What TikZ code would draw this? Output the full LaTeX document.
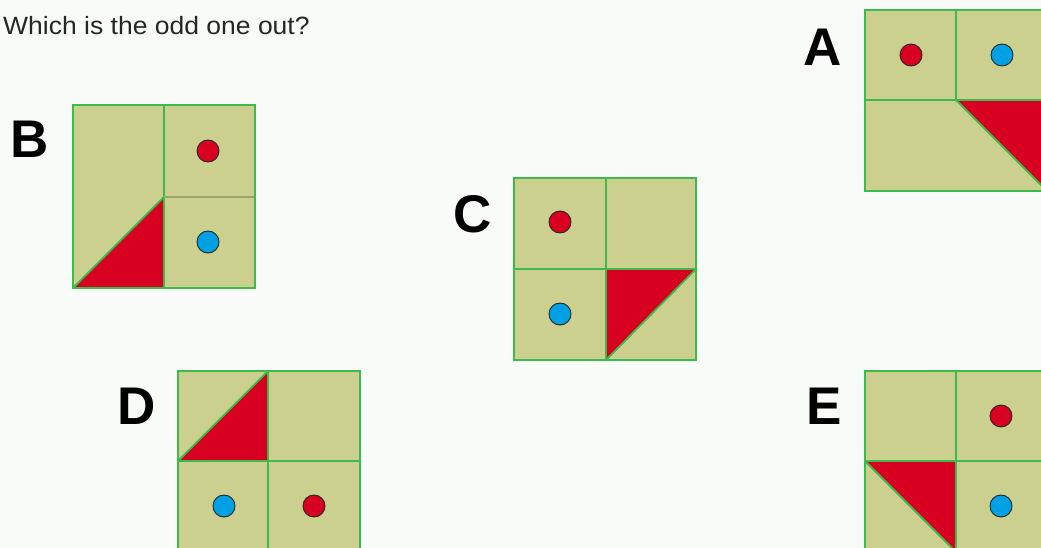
\documentclass[tikz,border=0pt]{standalone}
\usepackage{fontspec}
\setmainfont{Liberation Sans}
\definecolor{paper}{RGB}{249,251,249}
\definecolor{tilefill}{RGB}{203,208,143}
\definecolor{tileline}{RGB}{62,186,76}
\definecolor{wedgered}{RGB}{215,0,33}
\definecolor{dotblue}{RGB}{0,160,228}
\definecolor{seamolive}{RGB}{150,162,104}

\begin{document}
\begin{tikzpicture}[
        x=1pt, y=-1pt,
        tile/.style={fill=tilefill, draw=tileline, line width=1.8pt},
        seam/.style={draw=tileline, line width=1.8pt},
        wedge/.style={fill=wedgered, draw=tileline, line width=1.8pt, line join=round},
        dot/.style={draw=black!85, line width=0.9pt},
        reddot/.style={dot, fill=wedgered},
        bluedot/.style={dot, fill=dotblue},
        letter/.style={font=\fontsize{53}{53}\selectfont\bfseries, inner sep=0pt},
        question/.style={font=\fontsize{25}{25}\selectfont, text=black!85, inner sep=0pt, anchor=base west, xscale=1.06}
    ]
        \fill[paper] (0,0) rectangle (1041,548);
        \useasboundingbox (0,0) rectangle (1041,548);

        \node[question] (ask) at (3,35) {Which is the odd one out?};

        % A
        \node[letter] (labA) at (823,47) {A};
        \draw[tile] (865,10) rectangle (1047,191);
        \draw[wedge] (956,100) -- (1047,100) -- (1047,191) -- cycle;
        \draw[seam] (865,100) -- (1047,100);
        \draw[seam] (956,10) -- (956,100);
        \filldraw[reddot] (911,55) circle[radius=11pt];
        \filldraw[bluedot] (1002,55) circle[radius=11pt];

        % B
        \node[letter] (labB) at (30,139) {B};
        \draw[tile] (73,105) rectangle (255,288);
        \draw[wedge] (73,288) -- (164,197) -- (164,288) -- cycle;
        \draw[seam] (164,105) -- (164,288);
        \draw[seam, draw=seamolive] (164,197) -- (255,197);
        \filldraw[reddot] (208,151) circle[radius=11pt];
        \filldraw[bluedot] (208,242) circle[radius=11pt];

        % C
        \node[letter] (labC) at (473,214) {C};
        \draw[tile] (514,178) rectangle (696,360);
        \draw[wedge] (606,269) -- (696,269) -- (606,360) -- cycle;
        \draw[seam] (514,269) -- (696,269);
        \draw[seam] (606,178) -- (606,360);
        \filldraw[reddot] (560,222) circle[radius=11pt];
        \filldraw[bluedot] (560,314) circle[radius=11pt];

        % D
        \node[letter] (labD) at (137,406) {D};
        \draw[tile] (178,371) rectangle (360,552);
        \draw[wedge] (178,461) -- (268,371) -- (268,461) -- cycle;
        \draw[seam] (178,461) -- (360,461);
        \draw[seam] (268,371) -- (268,552);
        \filldraw[bluedot] (224,506) circle[radius=11pt];
        \filldraw[reddot] (314,506) circle[radius=11pt];

        % E
        \node[letter] (labE) at (824,406) {E};
        \draw[tile] (865,371) rectangle (1047,552);
        \draw[wedge] (865,461) -- (956,461) -- (956,552) -- cycle;
        \draw[seam] (865,461) -- (1047,461);
        \draw[seam] (956,371) -- (956,552);
        \filldraw[reddot] (1001,416) circle[radius=11pt];
        \filldraw[bluedot] (1001,506) circle[radius=11pt];
    \end{tikzpicture}
\end{document}
